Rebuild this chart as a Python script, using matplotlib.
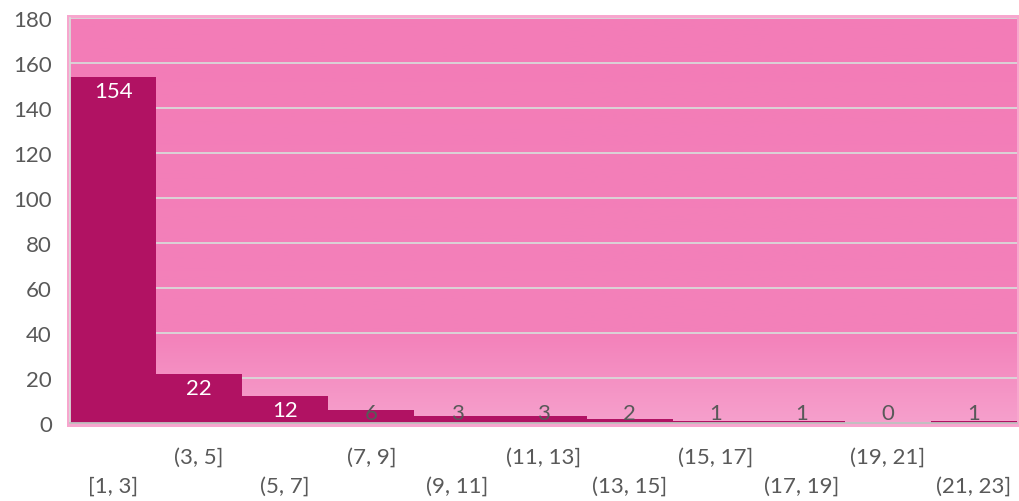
import numpy as np
import matplotlib.pyplot as plt
from matplotlib.colors import LinearSegmentedColormap
from matplotlib.patches import Rectangle

bins = ["[1, 3]", "(3, 5]", "(5, 7]", "(7, 9]", "(9, 11]", "(11, 13]",
        "(13, 15]", "(15, 17]", "(17, 19]", "(19, 21]", "(21, 23]"]
counts = [154, 22, 12, 6, 3, 3, 2, 1, 1, 0, 1]
white_labels = [True, True, True, False, False, False, False, False, False, False, False]

plt.rcParams['font.family'] = ['Lato', 'DejaVu Sans']
gray = "#595959"

W, H = 1020, 502
fig = plt.figure(figsize=(W / 100, H / 100), dpi=100)

# outer light pink frame behind plot area
fig.patches.append(Rectangle((67 / W, 1 - 428 / H), (1020 - 67) / W, (428 - 16) / H,
                             transform=fig.transFigure, facecolor="#F7A6CE",
                             edgecolor="none", zorder=0))

ax = fig.add_axes([70 / W, 1 - 424 / H, (1017 - 70) / W, (424 - 19) / H])
ax.set_zorder(2)
ax.patch.set_visible(False)
ax.set_xlim(-0.5, len(bins) - 0.5)
ax.set_ylim(0, 180)

cmap = LinearSegmentedColormap.from_list(
    "bg", [(0, "#F6A0CC"), (0.22, "#F381BA"), (1, "#F37CB7")])
grad = np.linspace(0, 1, 256).reshape(-1, 1)
ax.imshow(grad, extent=[-0.5, len(bins) - 0.5, 0, 180], aspect="auto",
          origin="lower", cmap=cmap, zorder=0)

x = np.arange(len(bins))
ax.bar(x, counts, width=1.0, color="#B11263", zorder=2)

ax.set_axisbelow(True)
ax.yaxis.grid(True, color="#D9D9D9", linewidth=1.3)
ax.set_yticks(range(0, 181, 20))
ax.tick_params(axis="y", length=0, pad=13, labelsize=16, labelcolor=gray)
ax.tick_params(axis="x", length=0, labelsize=16, labelcolor=gray)

ax.set_xticks(x)
ax.set_xticklabels(bins)
for i, t in enumerate(ax.xaxis.get_major_ticks()):
    t.set_pad(38 if i % 2 == 0 else 17)

for s in ["top", "right"]:
    ax.spines[s].set_visible(False)
ax.spines["left"].set_color("#D9D9D9")
ax.spines["left"].set_linewidth(1.3)
ax.spines["bottom"].set_color("#BFBFBF")
ax.spines["bottom"].set_linewidth(1.3)
ax.spines["left"].set_zorder(3)
ax.spines["bottom"].set_zorder(3)

for i, v in enumerate(counts):
    ypos = max(v - 6.4, 4.4)
    ax.text(x[i], ypos, str(v), ha="center", va="center", fontsize=16,
            color="white" if white_labels[i] else gray, zorder=4)

fig.savefig("out.png", dpi=100)
